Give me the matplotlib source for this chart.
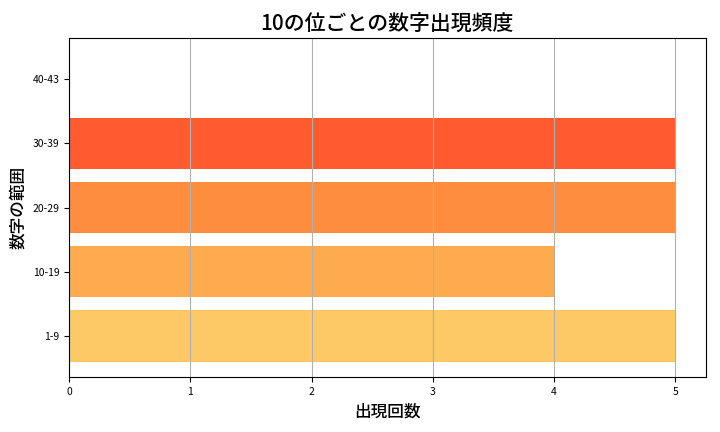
import matplotlib
matplotlib.use("Agg")
import matplotlib.pyplot as plt

plt.rcParams['font.family'] = ['Noto Sans CJK JP', 'DejaVu Sans']

categories = ["1-9", "10-19", "20-29", "30-39", "40-43"]
counts = [5, 4, 5, 5, 0]
colors = ["#FDC966", "#FDAB4E", "#FE8D3E", "#FF5B2F", "#E8302A"]

fig, ax = plt.subplots(figsize=(7.2, 4.32), dpi=100)
ax.barh(categories, counts, color=colors, height=0.8)
ax.set_title("10の位ごとの数字出現頻度", fontsize=15, fontweight='medium')
ax.set_xlabel("出現回数", fontsize=12, fontweight='medium')
ax.set_ylabel("数字の範囲", fontsize=12, fontweight='medium')
ax.tick_params(labelsize=7.5)
ax.grid(axis='x')
fig.subplots_adjust(left=0.096, right=0.98, top=0.912, bottom=0.127)
fig.savefig("out.png", dpi=100)
